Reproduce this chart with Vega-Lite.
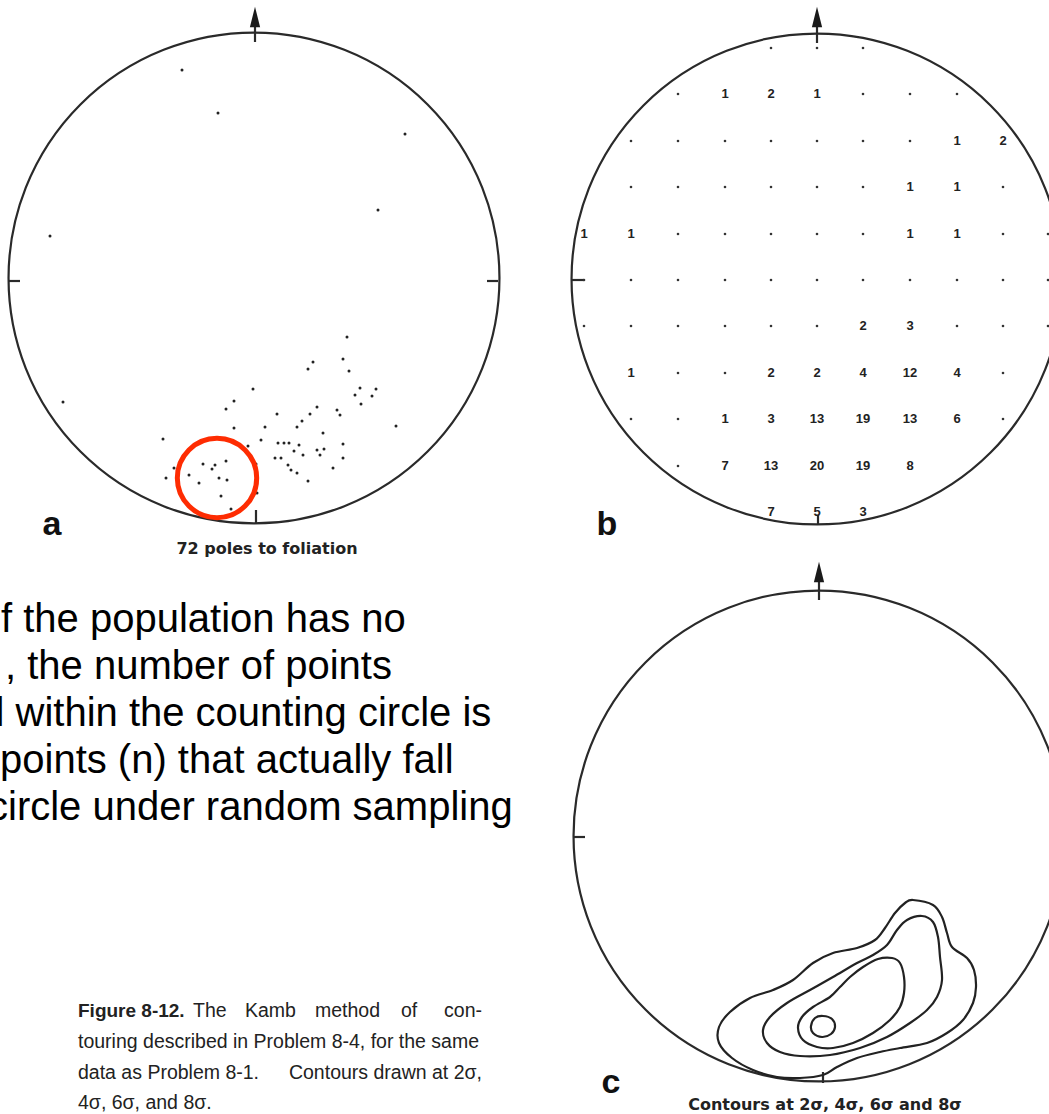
{
  "$schema": "https://vega.github.io/schema/vega-lite/v6.json",
  "width": 1049,
  "height": 1114,
  "autosize": {"type": "none"},
  "padding": 0,
  "background": "white",
  "config": {"view": {"stroke": null}},
  "datasets": {
    "nets": [
      {"net": "a", "x": 254, "y": 278},
      {"net": "b", "x": 817, "y": 279},
      {"net": "c", "x": 819, "y": 836}
    ],
    "northHeads": [
      {"net": "a", "x": 255, "y": 17},
      {"net": "b", "x": 817, "y": 17},
      {"net": "c", "x": 819, "y": 572}
    ],
    "strokes": [
      {"what": "north a", "x": 255, "y": 22, "x2": 255, "y2": 42},
      {"what": "north b", "x": 817, "y": 22, "x2": 817, "y2": 43},
      {"what": "north c", "x": 819, "y": 577, "x2": 819, "y2": 600},
      {"what": "west a", "x": 9, "y": 281, "x2": 20, "y2": 281},
      {"what": "east a", "x": 487, "y": 281, "x2": 498, "y2": 281},
      {"what": "south a", "x": 256, "y": 510, "x2": 256, "y2": 523},
      {"what": "west b", "x": 572, "y": 280, "x2": 584, "y2": 280},
      {"what": "south b", "x": 818, "y": 515, "x2": 818, "y2": 524},
      {"what": "west c", "x": 573, "y": 837, "x2": 585, "y2": 837},
      {"what": "south c", "x": 823, "y": 1072, "x2": 823, "y2": 1083}
    ],
    "poles": [
      {"x": 182, "y": 70}, {"x": 218, "y": 113}, {"x": 405, "y": 134}, {"x": 378, "y": 210},
      {"x": 50, "y": 236}, {"x": 347, "y": 337}, {"x": 313, "y": 362}, {"x": 343, "y": 359},
      {"x": 308, "y": 369}, {"x": 349, "y": 371}, {"x": 253, "y": 389}, {"x": 360, "y": 388},
      {"x": 376, "y": 389}, {"x": 355, "y": 395}, {"x": 372, "y": 396}, {"x": 63, "y": 402},
      {"x": 234, "y": 401}, {"x": 226, "y": 409}, {"x": 361, "y": 404}, {"x": 317, "y": 407},
      {"x": 277, "y": 414}, {"x": 310, "y": 414}, {"x": 337, "y": 410}, {"x": 340, "y": 415},
      {"x": 302, "y": 421}, {"x": 234, "y": 428}, {"x": 265, "y": 427}, {"x": 297, "y": 427},
      {"x": 396, "y": 426}, {"x": 323, "y": 433}, {"x": 163, "y": 439}, {"x": 261, "y": 440},
      {"x": 278, "y": 443}, {"x": 284, "y": 443}, {"x": 289, "y": 443}, {"x": 299, "y": 445},
      {"x": 248, "y": 446}, {"x": 343, "y": 444}, {"x": 294, "y": 451}, {"x": 317, "y": 450},
      {"x": 324, "y": 449}, {"x": 303, "y": 455}, {"x": 320, "y": 455}, {"x": 275, "y": 458},
      {"x": 281, "y": 458}, {"x": 343, "y": 458}, {"x": 226, "y": 461}, {"x": 203, "y": 464},
      {"x": 215, "y": 465}, {"x": 256, "y": 464}, {"x": 212, "y": 469}, {"x": 288, "y": 465},
      {"x": 291, "y": 470}, {"x": 297, "y": 473}, {"x": 333, "y": 468}, {"x": 174, "y": 468},
      {"x": 189, "y": 475}, {"x": 166, "y": 478}, {"x": 219, "y": 478}, {"x": 227, "y": 480},
      {"x": 199, "y": 483}, {"x": 308, "y": 481}, {"x": 257, "y": 480}, {"x": 257, "y": 493},
      {"x": 221, "y": 496}, {"x": 231, "y": 509}
    ],
    "countingCircle": [{"x": 217, "y": 478}],
    "counts": [
      {"x": 771, "y": 48, "n": null}, {"x": 817, "y": 48, "n": null}, {"x": 863, "y": 48, "n": null},
      {"x": 678, "y": 94, "n": null}, {"x": 725, "y": 94, "n": 1}, {"x": 771, "y": 94, "n": 2}, {"x": 817, "y": 94, "n": 1},
      {"x": 863, "y": 94, "n": null}, {"x": 910, "y": 94, "n": null}, {"x": 957, "y": 94, "n": null},
      {"x": 631, "y": 141, "n": null}, {"x": 678, "y": 141, "n": null}, {"x": 725, "y": 141, "n": null}, {"x": 771, "y": 141, "n": null},
      {"x": 817, "y": 141, "n": null}, {"x": 863, "y": 141, "n": null}, {"x": 910, "y": 141, "n": null}, {"x": 957, "y": 141, "n": 1},
      {"x": 1003, "y": 141, "n": 2},
      {"x": 631, "y": 187, "n": null}, {"x": 678, "y": 187, "n": null}, {"x": 725, "y": 187, "n": null}, {"x": 771, "y": 187, "n": null},
      {"x": 817, "y": 187, "n": null}, {"x": 863, "y": 187, "n": null}, {"x": 910, "y": 187, "n": 1}, {"x": 957, "y": 187, "n": 1},
      {"x": 1003, "y": 187, "n": null},
      {"x": 584, "y": 234, "n": 1}, {"x": 631, "y": 234, "n": 1}, {"x": 678, "y": 234, "n": null}, {"x": 725, "y": 234, "n": null},
      {"x": 771, "y": 234, "n": null}, {"x": 817, "y": 234, "n": null}, {"x": 863, "y": 234, "n": null}, {"x": 910, "y": 234, "n": 1},
      {"x": 957, "y": 234, "n": 1}, {"x": 1003, "y": 234, "n": null}, {"x": 1048, "y": 234, "n": null},
      {"x": 584, "y": 280, "n": null}, {"x": 631, "y": 280, "n": null}, {"x": 678, "y": 280, "n": null}, {"x": 725, "y": 280, "n": null},
      {"x": 771, "y": 280, "n": null}, {"x": 817, "y": 280, "n": null}, {"x": 863, "y": 280, "n": null}, {"x": 910, "y": 280, "n": null},
      {"x": 957, "y": 280, "n": null}, {"x": 1003, "y": 280, "n": null}, {"x": 1048, "y": 280, "n": null},
      {"x": 584, "y": 326, "n": null}, {"x": 631, "y": 326, "n": null}, {"x": 678, "y": 326, "n": null}, {"x": 725, "y": 326, "n": null},
      {"x": 771, "y": 326, "n": null}, {"x": 817, "y": 326, "n": null}, {"x": 863, "y": 326, "n": 2}, {"x": 910, "y": 326, "n": 3},
      {"x": 957, "y": 326, "n": null}, {"x": 1003, "y": 326, "n": null}, {"x": 1048, "y": 326, "n": null},
      {"x": 631, "y": 373, "n": 1}, {"x": 678, "y": 373, "n": null}, {"x": 725, "y": 373, "n": null}, {"x": 771, "y": 373, "n": 2},
      {"x": 817, "y": 373, "n": 2}, {"x": 863, "y": 373, "n": 4}, {"x": 910, "y": 373, "n": 12}, {"x": 957, "y": 373, "n": 4},
      {"x": 1003, "y": 373, "n": null},
      {"x": 631, "y": 419, "n": null}, {"x": 678, "y": 419, "n": null}, {"x": 725, "y": 419, "n": 1}, {"x": 771, "y": 419, "n": 3},
      {"x": 817, "y": 419, "n": 13}, {"x": 863, "y": 419, "n": 19}, {"x": 910, "y": 419, "n": 13}, {"x": 957, "y": 419, "n": 6},
      {"x": 1003, "y": 419, "n": null},
      {"x": 678, "y": 466, "n": null}, {"x": 725, "y": 466, "n": 7}, {"x": 771, "y": 466, "n": 13}, {"x": 817, "y": 466, "n": 20},
      {"x": 863, "y": 466, "n": 19}, {"x": 910, "y": 466, "n": 8},
      {"x": 771, "y": 512, "n": 7}, {"x": 817, "y": 512, "n": 5}, {"x": 863, "y": 512, "n": 3}
    ],
    "contours": [
      {"level": "2σ", "k": 0, "x": 913, "y": 900}, {"level": "2σ", "k": 1, "x": 933, "y": 905},
      {"level": "2σ", "k": 2, "x": 942, "y": 917}, {"level": "2σ", "k": 3, "x": 947, "y": 933},
      {"level": "2σ", "k": 4, "x": 952, "y": 947}, {"level": "2σ", "k": 5, "x": 967, "y": 958},
      {"level": "2σ", "k": 6, "x": 974, "y": 970}, {"level": "2σ", "k": 7, "x": 976, "y": 987},
      {"level": "2σ", "k": 8, "x": 973, "y": 1003}, {"level": "2σ", "k": 9, "x": 963, "y": 1020},
      {"level": "2σ", "k": 10, "x": 947, "y": 1033}, {"level": "2σ", "k": 11, "x": 927, "y": 1043},
      {"level": "2σ", "k": 12, "x": 900, "y": 1048}, {"level": "2σ", "k": 13, "x": 880, "y": 1052},
      {"level": "2σ", "k": 14, "x": 857, "y": 1058}, {"level": "2σ", "k": 15, "x": 837, "y": 1067},
      {"level": "2σ", "k": 16, "x": 823, "y": 1075}, {"level": "2σ", "k": 17, "x": 800, "y": 1078},
      {"level": "2σ", "k": 18, "x": 777, "y": 1077}, {"level": "2σ", "k": 19, "x": 753, "y": 1070},
      {"level": "2σ", "k": 20, "x": 732, "y": 1058}, {"level": "2σ", "k": 21, "x": 719, "y": 1043},
      {"level": "2σ", "k": 22, "x": 719, "y": 1027}, {"level": "2σ", "k": 23, "x": 730, "y": 1012},
      {"level": "2σ", "k": 24, "x": 750, "y": 998}, {"level": "2σ", "k": 25, "x": 773, "y": 990},
      {"level": "2σ", "k": 26, "x": 793, "y": 980}, {"level": "2σ", "k": 27, "x": 813, "y": 963},
      {"level": "2σ", "k": 28, "x": 833, "y": 953}, {"level": "2σ", "k": 29, "x": 857, "y": 948},
      {"level": "2σ", "k": 30, "x": 875, "y": 940}, {"level": "2σ", "k": 31, "x": 885, "y": 928},
      {"level": "2σ", "k": 32, "x": 895, "y": 913}, {"level": "2σ", "k": 33, "x": 905, "y": 903},
      {"level": "4σ", "k": 0, "x": 922, "y": 916}, {"level": "4σ", "k": 1, "x": 933, "y": 922},
      {"level": "4σ", "k": 2, "x": 938, "y": 937}, {"level": "4σ", "k": 3, "x": 940, "y": 957},
      {"level": "4σ", "k": 4, "x": 942, "y": 980}, {"level": "4σ", "k": 5, "x": 937, "y": 997},
      {"level": "4σ", "k": 6, "x": 927, "y": 1010}, {"level": "4σ", "k": 7, "x": 910, "y": 1023},
      {"level": "4σ", "k": 8, "x": 887, "y": 1037}, {"level": "4σ", "k": 9, "x": 860, "y": 1048},
      {"level": "4σ", "k": 10, "x": 830, "y": 1055}, {"level": "4σ", "k": 11, "x": 800, "y": 1056},
      {"level": "4σ", "k": 12, "x": 780, "y": 1052}, {"level": "4σ", "k": 13, "x": 767, "y": 1043},
      {"level": "4σ", "k": 14, "x": 763, "y": 1030}, {"level": "4σ", "k": 15, "x": 770, "y": 1017},
      {"level": "4σ", "k": 16, "x": 787, "y": 1003}, {"level": "4σ", "k": 17, "x": 810, "y": 990},
      {"level": "4σ", "k": 18, "x": 833, "y": 977}, {"level": "4σ", "k": 19, "x": 857, "y": 963},
      {"level": "4σ", "k": 20, "x": 873, "y": 955}, {"level": "4σ", "k": 21, "x": 887, "y": 945},
      {"level": "4σ", "k": 22, "x": 897, "y": 930}, {"level": "4σ", "k": 23, "x": 907, "y": 920},
      {"level": "6σ", "k": 0, "x": 892, "y": 958}, {"level": "6σ", "k": 1, "x": 900, "y": 963},
      {"level": "6σ", "k": 2, "x": 904, "y": 977}, {"level": "6σ", "k": 3, "x": 904, "y": 993},
      {"level": "6σ", "k": 4, "x": 900, "y": 1007}, {"level": "6σ", "k": 5, "x": 890, "y": 1020},
      {"level": "6σ", "k": 6, "x": 873, "y": 1033}, {"level": "6σ", "k": 7, "x": 853, "y": 1043},
      {"level": "6σ", "k": 8, "x": 833, "y": 1048}, {"level": "6σ", "k": 9, "x": 817, "y": 1047},
      {"level": "6σ", "k": 10, "x": 803, "y": 1040}, {"level": "6σ", "k": 11, "x": 798, "y": 1028},
      {"level": "6σ", "k": 12, "x": 802, "y": 1017}, {"level": "6σ", "k": 13, "x": 813, "y": 1007},
      {"level": "6σ", "k": 14, "x": 830, "y": 997}, {"level": "6σ", "k": 15, "x": 840, "y": 987},
      {"level": "6σ", "k": 16, "x": 850, "y": 977}, {"level": "6σ", "k": 17, "x": 863, "y": 967},
      {"level": "6σ", "k": 18, "x": 878, "y": 959},
      {"level": "8σ", "k": 0, "x": 823, "y": 1016}, {"level": "8σ", "k": 1, "x": 832, "y": 1019},
      {"level": "8σ", "k": 2, "x": 835, "y": 1027}, {"level": "8σ", "k": 3, "x": 831, "y": 1034},
      {"level": "8σ", "k": 4, "x": 822, "y": 1037}, {"level": "8σ", "k": 5, "x": 813, "y": 1033},
      {"level": "8σ", "k": 6, "x": 811, "y": 1026}, {"level": "8σ", "k": 7, "x": 815, "y": 1018}
    ],
    "panelLetters": [
      {"t": "a", "x": 52, "y": 535},
      {"t": "b", "x": 607, "y": 535},
      {"t": "c", "x": 611, "y": 1093}
    ],
    "panelCaptions": [
      {"t": "72 poles to foliation", "x": 267, "y": 554},
      {"t": "Contours at 2σ, 4σ, 6σ and 8σ", "x": 825, "y": 1110}
    ],
    "slideText": [
      {"t": "f the population has no", "x": 1, "y": 632},
      {"t": ", the number of points", "x": 5, "y": 679},
      {"t": "l within the counting circle is", "x": -4.5, "y": 726},
      {"t": "points (n) that actually fall", "x": 0, "y": 773},
      {"t": "circle under random sampling", "x": -12, "y": 820}
    ],
    "captionBold": [
      {"t": "Figure 8-12.", "x": 78, "y": 1017}
    ],
    "captionLeft": [
      {"t": "The", "x": 193, "y": 1017},
      {"t": "Kamb", "x": 245, "y": 1017},
      {"t": "method", "x": 315, "y": 1017},
      {"t": "of", "x": 401, "y": 1017},
      {"t": "touring described in Problem 8-4, for the same", "x": 78, "y": 1048},
      {"t": "data as Problem 8-1.", "x": 78, "y": 1079},
      {"t": "4σ, 6σ, and 8σ.", "x": 78, "y": 1109}
    ],
    "captionRight": [
      {"t": "con-", "x": 482, "y": 1017},
      {"t": "Contours drawn at 2σ,", "x": 482, "y": 1079}
    ]
  },
  "encoding": {
    "x": {"field": "x", "type": "quantitative", "axis": null,
          "scale": {"domain": [0, 1049], "nice": false, "zero": false}},
    "y": {"field": "y", "type": "quantitative", "axis": null,
          "scale": {"domain": [0, 1114], "nice": false, "zero": false, "reverse": true}}
  },
  "layer": [
    {
      "data": {"name": "nets"},
      "mark": {"type": "point", "shape": "circle", "filled": false, "size": 241000,
               "strokeWidth": 2.2, "color": "#2a2a2a", "opacity": 1}
    },
    {
      "data": {"name": "strokes"},
      "mark": {"type": "rule", "strokeWidth": 2.2, "color": "#2a2a2a"},
      "encoding": {"x2": {"field": "x2"}, "y2": {"field": "y2"}}
    },
    {
      "data": {"name": "northHeads"},
      "mark": {"type": "point", "shape": "M0,-1L0.5,1L-0.5,1Z", "filled": true,
               "size": 420, "color": "#1a1a1a", "opacity": 1, "strokeWidth": 0}
    },
    {
      "data": {"name": "poles"},
      "mark": {"type": "point", "shape": "circle", "filled": true, "size": 9,
               "color": "#222", "opacity": 1}
    },
    {
      "data": {"name": "countingCircle"},
      "mark": {"type": "point", "shape": "circle", "filled": false, "size": 6300,
               "strokeWidth": 5, "color": "#fe2c02", "opacity": 1}
    },
    {
      "data": {"name": "counts"},
      "transform": [{"filter": "datum.n == null"}],
      "mark": {"type": "point", "shape": "circle", "filled": true, "size": 7,
               "color": "#333", "opacity": 1}
    },
    {
      "data": {"name": "counts"},
      "transform": [{"filter": "datum.n != null"}],
      "mark": {"type": "text", "font": "Liberation Sans", "fontWeight": "bold",
               "fontSize": 13, "color": "#222", "align": "center", "baseline": "middle"},
      "encoding": {"text": {"field": "n", "type": "quantitative"}}
    },
    {
      "data": {"name": "contours"},
      "mark": {"type": "line", "interpolate": "cardinal-closed", "strokeWidth": 2.2,
               "color": "#222"},
      "encoding": {
        "detail": {"field": "level", "type": "nominal"},
        "order": {"field": "k", "type": "quantitative"}
      }
    },
    {
      "data": {"name": "panelLetters"},
      "mark": {"type": "text", "font": "Liberation Sans", "fontWeight": "bold",
               "fontSize": 34, "color": "#111", "align": "center", "baseline": "alphabetic"},
      "encoding": {"text": {"field": "t"}}
    },
    {
      "data": {"name": "panelCaptions"},
      "mark": {"type": "text", "font": "DejaVu Sans", "fontWeight": "bold",
               "fontSize": 16, "color": "#222", "align": "center", "baseline": "alphabetic"},
      "encoding": {"text": {"field": "t"}}
    },
    {
      "data": {"name": "slideText"},
      "mark": {"type": "text", "font": "Liberation Sans", "fontSize": 40,
               "color": "#000", "align": "left", "baseline": "alphabetic"},
      "encoding": {"text": {"field": "t"}}
    },
    {
      "data": {"name": "captionBold"},
      "mark": {"type": "text", "font": "Liberation Sans", "fontWeight": "bold", "fontSize": 19,
               "color": "#222", "align": "left", "baseline": "alphabetic"},
      "encoding": {"text": {"field": "t"}}
    },
    {
      "data": {"name": "captionLeft"},
      "mark": {"type": "text", "font": "Liberation Sans", "fontSize": 19.5,
               "color": "#222", "align": "left", "baseline": "alphabetic"},
      "encoding": {"text": {"field": "t"}}
    },
    {
      "data": {"name": "captionRight"},
      "mark": {"type": "text", "font": "Liberation Sans", "fontSize": 19.5,
               "color": "#222", "align": "right", "baseline": "alphabetic"},
      "encoding": {"text": {"field": "t"}}
    }
  ]
}
